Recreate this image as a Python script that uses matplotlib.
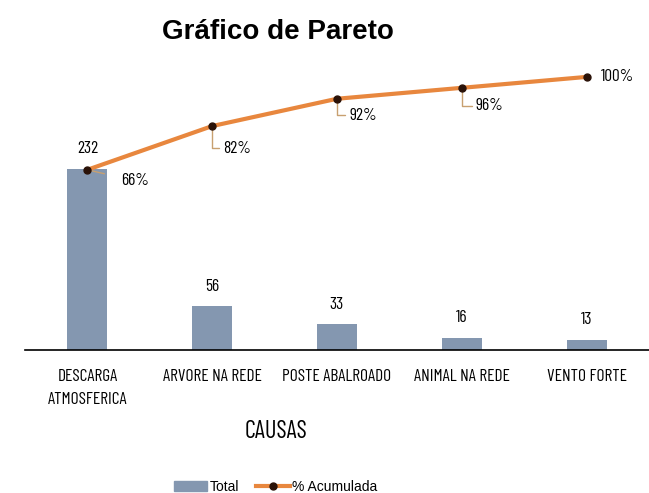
import matplotlib.pyplot as plt
from matplotlib.patches import Patch
from matplotlib.lines import Line2D

causas = ["DESCARGA\nATMOSFERICA", "ARVORE NA REDE", "POSTE ABALROADO", "ANIMAL NA REDE", "VENTO FORTE"]
total = [232, 56, 33, 16, 13]
acumulada = [0.66, 0.82, 0.92, 0.96, 1.00]
rotulos_pct = ["66%", "82%", "92%", "96%", "100%"]

cor_barra = "#8497B0"
cor_linha = "#E8873E"
cor_ponto = "#2a1208"
narrow = ["Barlow Condensed", "DejaVu Sans"]
fs = 12.5

fig = plt.figure(figsize=(6.49, 4.93), dpi=100)
ax = fig.add_axes([0.0385, 0.290, 0.9615, 0.554])
x = list(range(len(causas)))

ax.bar(x, total, width=0.32, color=cor_barra, zorder=2)
ax.set_ylim(0, 350)
ax.set_xlim(-0.5, 4.5)
for s in ["top", "left", "right"]:
    ax.spines[s].set_visible(False)
ax.spines["bottom"].set_linewidth(1.2)
ax.set_yticks([])
ax.set_xticks(x)
ax.set_xticklabels(causas, family=narrow, fontsize=fs, linespacing=1.65)
ax.tick_params(axis="x", length=0, pad=14)

# rotulos das barras
for xi, v in zip(x, total):
    ax.annotate(str(v), (xi, v), xytext=(0, 9), textcoords="offset points",
                ha="center", va="bottom", family=narrow, fontsize=fs)

ax2 = ax.twinx()
ax2.set_ylim(0, 1)
ax2.set_axis_off()
ax2.plot(x, acumulada, color=cor_linha, lw=3, zorder=3, clip_on=False)
ax2.plot(x, acumulada, "o", color=cor_ponto, ms=5, zorder=4, clip_on=False)

# rotulos de % com linha guia
guia = dict(arrowstyle="-", color="#C8A070", lw=1,
            connectionstyle="angle,angleA=0,angleB=90,rad=0", shrinkA=1, shrinkB=3)
offsets = [(24, -8), (8, -16), (9, -12), (10, -13), (10, 0)]
for i, (xi, p, txt) in enumerate(zip(x, acumulada, rotulos_pct)):
    kw = dict(xytext=offsets[i], textcoords="offset points", ha="left", va="center",
              family=narrow, fontsize=fs)
    if i == 4:
        ax2.annotate(txt, (xi, p), **kw)
    elif i == 0:
        ax2.annotate(txt, (xi, p), arrowprops=dict(arrowstyle="-", color="#C8A070", lw=1,
                                                   shrinkA=10, shrinkB=3), **kw)
    else:
        ax2.annotate(txt, (xi, p), arrowprops=guia, **kw)

fig.text(0.428, 0.935, "Gráfico de Pareto", ha="center", va="center",
         fontsize=20, fontweight="bold", family="Liberation Sans")
fig.text(0.425, 0.125, "CAUSAS", ha="center", va="center",
         fontsize=17.5, family=narrow)

handles = [Patch(color=cor_barra, label="Total"),
           Line2D([0], [0], color=cor_linha, lw=3, marker="o", mfc=cor_ponto,
                  mec=cor_ponto, ms=5, label="% Acumulada")]
fig.legend(handles=handles, loc="center", bbox_to_anchor=(0.425, 0.012), ncol=2,
           frameon=False, prop={"family": "Liberation Sans", "size": 10},
           handlelength=2.4, handletextpad=0.2, columnspacing=1.2)

fig.savefig("out.png", dpi=100)
